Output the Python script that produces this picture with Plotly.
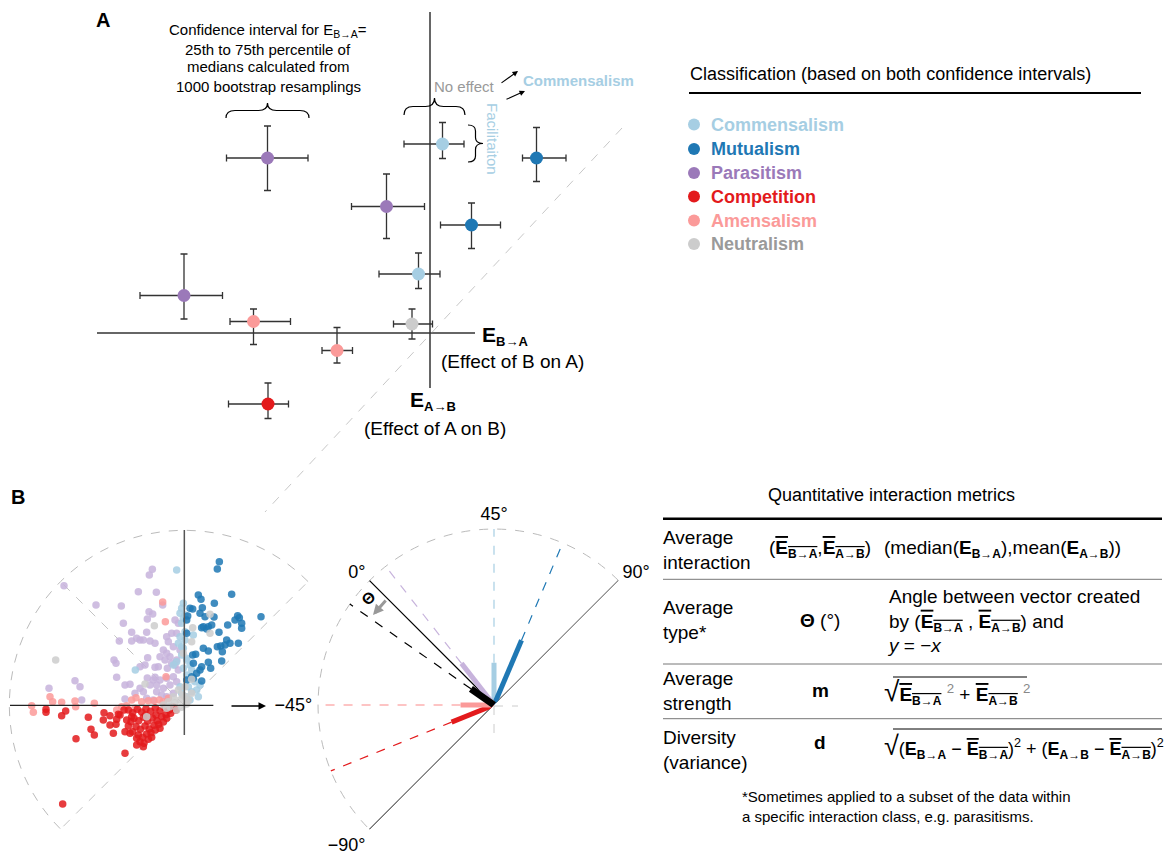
import math
import plotly.graph_objects as go

W, H = 1166, 855
FONT = "Liberation Sans, Arial, Helvetica, sans-serif"

# ---------------- colours ----------------
CLASSES = ["Commensalism", "Mutualism", "Parasitism", "Competition", "Amensalism", "Neutralism"]
DOT_COL = {"Commensalism": "#a6cee3", "Mutualism": "#1f78b4", "Parasitism": "#9b79b9",
           "Competition": "#e31a1c", "Amensalism": "#fb9a99", "Neutralism": "#cccccc"}
TXT_COL = dict(DOT_COL, Neutralism="#9a9a9a")
B_COL = {"Commensalism": "#a6cee3", "Mutualism": "#1f78b4", "Parasitism": "#c7b3dc",
         "Competition": "#e31a1c", "Amensalism": "#fb9a99", "Neutralism": "#cccccc"}

# ---------------- panel A data (E_B->A, E_A->B with IQR of bootstrap medians) ----------------
a_class = ["Parasitism", "Commensalism", "Mutualism", "Parasitism", "Mutualism", "Commensalism",
           "Parasitism", "Amensalism", "Neutralism", "Amensalism", "Competition"]
a_x = [-3.25, 0.25, 2.13, -0.87, 0.83, -0.23, -4.92, -3.53, -0.36, -1.86, -3.24]
a_x_lo = [-4.07, -0.52, 1.85, -1.57, 0.21, -1.02, -5.80, -4.00, -0.73, -2.16, -4.03]
a_x_hi = [-2.44, 0.68, 2.72, -0.11, 1.41, 0.20, -4.15, -2.79, 0.05, -1.55, -2.83]
a_y = [3.50, 3.78, 3.50, 2.53, 2.16, 1.18, 0.75, 0.23, 0.18, -0.35, -1.42]
a_y_lo = [2.85, 3.49, 3.03, 1.89, 1.69, 0.89, 0.28, -0.23, -0.12, -0.60, -1.71]
a_y_hi = [4.14, 4.21, 4.11, 3.18, 2.60, 1.60, 1.58, 0.48, 0.48, 0.11, -1.00]

# ---------------- panel B scatter data ----------------
para_x = [-0.96, -1.05, -1.38, -0.84, -3.61, -2.65, -1.89, -1.06, -0.95, -1.11, -0.65, -1.83, -1.58, -1.13,
          -1.43, -1.58, -1.33, -1.23, -1.03, -0.88, -1.95, -0.53, -0.38, -0.23, -0.28, -0.18, -0.48, -0.63,
          -0.53, -0.43, -0.58, -1.10, -2.11, -2.05, -1.33, -1.18, -0.88, -0.78, -1.11, -0.88, -0.51, -0.38,
          -0.23, -0.18, -2.03, -3.28, -3.13, -4.06, -3.08, -1.78, -1.63, -1.78, -1.23, -1.03, -0.93, -0.83,
          -0.63, -0.43, -0.23, -1.13, -0.73, -0.53, -0.33, -0.83, -0.33, -0.53, -0.93, -1.48, -1.33, -0.68,
          -0.33, -0.13, -0.73, -0.28]
para_y = [4.08, 3.91, 3.41, 3.39, 3.59, 3.01, 2.98, 2.81, 2.74, 2.59, 3.01, 2.46, 2.19, 2.19,
          2.01, 1.93, 1.96, 1.96, 1.93, 1.86, 1.93, 2.06, 2.16, 2.16, 2.56, 2.46, 1.91, 1.66,
          1.56, 1.46, 1.36, 1.43, 1.36, 1.26, 1.16, 1.21, 1.14, 1.16, 0.82, 0.84, 1.11, 1.26,
          1.36, 1.06, 0.84, 0.74, 0.56, 0.51, 0.16, 0.61, 0.63, 0.19, 0.41, 0.61, 0.76, 0.41,
          0.51, 0.61, 0.71, 0.21, 0.76, 0.81, 0.86, 0.61, 0.36, 0.26, 0.16, 0.36, 0.51, 0.31,
          1.76, 1.66, 1.46, 1.21]
comm_x = [-0.23, -0.03, -0.08, -0.13, -0.03, -0.08, 0.02, 0.27, 0.02, -0.18, -0.03, -0.08, 0.07, 0.17,
          0.22, -0.03, -0.23, 0.27, 0.32, 0.07, -0.33, -1.47, -0.08, 0.07, 0.12, 0.22, 0.37, 0.47,
          0.07, -0.08, -0.13, 0.42, 0.17, 0.02, -0.13]
comm_y = [4.06, 3.06, 2.91, 2.76, 2.61, 2.46, 2.71, 2.11, 1.96, 1.86, 1.71, 1.51, 1.41, 1.21,
          1.06, 1.11, 1.31, 0.76, 0.71, 0.91, 1.21, 1.06, 1.76, 1.36, 0.56, 0.41, 0.46, 0.61,
          0.26, 0.36, 0.56, 0.26, 0.16, 2.21, 2.06]
mutu_x = [1.05, 0.99, 0.42, 0.50, 1.42, 0.17, 0.25, 0.54, 0.90, 0.47, 0.62, 0.89, 1.60, 1.65, 1.52,
          1.72, 1.72, 2.30, 1.30, 0.57, 0.72, 0.82, 0.67, 0.52, 1.04, 0.07, 0.07, 0.10, 1.27, 1.37,
          1.62, 1.22, 1.09, 0.99, 0.57, 0.72, 1.14, 0.34, 0.25, 1.12, 0.72, 0.52, 0.27, 0.79, 0.47,
          0.37, 0.22, 0.52, 0.27, 0.07]
mutu_y = [4.31, 4.09, 3.31, 3.18, 3.33, 2.91, 2.89, 2.93, 3.06, 2.76, 2.66, 2.65, 2.69, 2.63, 2.56,
          2.46, 2.31, 2.66, 2.41, 2.36, 2.36, 2.41, 2.29, 2.33, 2.19, 2.16, 2.56, 2.68, 1.96, 1.86,
          1.86, 1.81, 1.78, 1.76, 1.71, 1.63, 1.61, 1.53, 1.51, 1.33, 1.29, 1.16, 1.26, 1.11, 1.06,
          0.96, 0.86, 0.73, 0.81, 0.76]
amen_x = [-0.65, -0.57, -0.55, -1.45, -1.73, -4.03, -3.95, -3.68, -4.58, -4.53, -3.28, -3.26, -2.70,
          -0.91, -0.75, -1.08, -1.28, -1.58, -1.48, -2.03, -1.88, -0.63, -0.48]
amen_y = [3.10, 2.51, 0.86, 0.23, -0.01, 0.26, 0.11, 0.09, -0.01, -0.21, 0.13, -0.04, 0.06,
          0.14, 0.16, 0.14, 0.11, 0.16, -0.09, -0.14, -0.04, 0.11, 0.21]
comp_x = [-4.15, -4.15, -3.68, -3.56, -3.25, -2.88, -2.80, -2.70, -2.41, -2.43, -2.23, -2.23, -2.05, -2.13,
          -1.93, -1.78, -1.78, -1.58, -1.63, -1.43, -1.23, -3.65, -2.03, -1.98,
          -1.68, -1.55, -1.41, -1.28, -1.15, -1.01, -0.87, -0.73, -0.59, -0.45, -0.33,
          -1.51, -1.37, -1.23, -1.10, -0.96, -0.82, -0.68, -0.55, -0.41,
          -1.45, -1.32, -1.18, -1.05, -0.91, -0.77, -0.63, -1.38, -1.25, -1.13, -1.00, -0.87,
          -1.33, -1.21, -1.08, -1.55, -1.68, -1.60, -1.16, -0.85, -0.98, -1.43, -0.53, -0.73,
          -0.25, -1.81, -1.73]
comp_y = [-0.12, -0.21, -0.31, -0.17, -1.00, -0.36, -0.72, -0.89, -0.22, -0.44, -0.31, -0.59, -0.57, -0.84,
          -0.29, -0.79, -1.44, -0.34, -0.84, -0.99, -1.24, -2.96, -0.42, -0.27,
          -0.14, -0.22, -0.12, -0.20, -0.10, -0.18, -0.08, -0.16, -0.07, -0.14, -0.06,
          -0.39, -0.46, -0.36, -0.48, -0.38, -0.46, -0.34, -0.28, -0.24,
          -0.64, -0.72, -0.62, -0.71, -0.60, -0.57, -0.50, -0.89, -0.96, -0.86, -0.82, -0.74,
          -1.09, -1.14, -1.02, -0.79, -0.62, -0.49, -0.29, -0.29, -0.96, -1.19, -0.39, -0.69,
          -0.14, -0.14, -0.44]
neut_x = [-3.86, -0.90, 0.25, 0.77, 0.77, 0.22, -1.18, 0.22, 0.02, -0.13, -0.28, -0.43, -0.23, 0.07,
          -0.05, 0.22, -1.13, -0.53, -0.08, 0.12, -0.33, -0.18, 0.02, -0.48, -0.63, -0.03]
neut_y = [1.36, 2.39, 2.33, 2.73, 2.16, 1.91, 0.64, 0.78, 0.26, 0.16, 0.08, -0.04, -0.14, 0.04,
          0.31, 0.36, -0.34, -0.09, -0.06, 0.16, 0.26, 0.46, 0.56, 0.11, 0.01, 1.56]
B_DATA = {"Parasitism": (para_x, para_y), "Commensalism": (comm_x, comm_y), "Mutualism": (mutu_x, mutu_y),
          "Amensalism": (amen_x, amen_y), "Competition": (comp_x, comp_y), "Neutralism": (neut_x, neut_y)}
B_RADIUS = 5.25

# ---------------- panel B polar summary data ----------------
pol_class = ["Commensalism", "Mutualism", "Parasitism", "Competition", "Amensalism"]
pol_theta = [45, 68, 7, -67, -45]
pol_m = [0.24, 0.40, 0.30, 0.26, 0.19]
overall_theta = -10
overall_m = 0.16
ref_theta = [0, 90, -90]
polar_ticks = [-90, -45, 0, 45, 90]
polar_ticktext = ["\u221290\u00b0", "\u221245\u00b0", "0\u00b0", "45\u00b0", "90\u00b0"]


# ---------------- helpers ----------------
def PX(x):
    return x / W


def PY(y):
    return 1 - y / H


def P(x, y):
    return f"{x / W:.5f},{1 - y / H:.5f}"


def ann(x, y, text, size=15, color="black", xanchor="center", yanchor="middle", **kw):
    return dict(x=PX(x), y=PY(y), xref="paper", yref="paper", text=text, showarrow=False,
                font=dict(family=FONT, size=size, color=color), xanchor=xanchor, yanchor=yanchor, **kw)


def arrow(tx, ty, hx, hy, color="black", width=1.2, head=2, size=1.0):
    return dict(x=PX(hx), y=PY(hy), xref="paper", yref="paper", ax=tx - hx, ay=ty - hy,
                axref="pixel", ayref="pixel", text="", showarrow=True, arrowhead=head,
                arrowsize=size, arrowwidth=width, arrowcolor=color, standoff=0, startstandoff=0)


def pline(x0, y0, x1, y1, color="black", width=1, dash="solid"):
    return dict(type="line", xref="paper", yref="paper", x0=PX(x0), y0=PY(y0), x1=PX(x1), y1=PY(y1),
                line=dict(color=color, width=width, dash=dash))


def brace_h(x1, x2, y0, h, color="black"):
    ym = y0 - h / 2
    xm = (x1 + x2) / 2
    q = 9
    path = (f"M{P(x1, y0)} Q{P(x1, ym)} {P(x1 + q, ym)} L{P(xm - q, ym)} Q{P(xm, ym)} {P(xm, y0 - h)} "
            f"Q{P(xm, ym)} {P(xm + q, ym)} L{P(x2 - q, ym)} Q{P(x2, ym)} {P(x2, y0)}")
    return dict(type="path", xref="paper", yref="paper", path=path, line=dict(color=color, width=1.2))


def brace_v(x0, y1, y2, h, color="black"):
    xm = x0 + h / 2
    ymid = (y1 + y2) / 2
    q = 6
    path = (f"M{P(x0, y1)} Q{P(xm, y1)} {P(xm, y1 + q)} L{P(xm, ymid - q)} Q{P(xm, ymid)} {P(x0 + h, ymid)} "
            f"Q{P(xm, ymid)} {P(xm, ymid + q)} L{P(xm, y2 - q)} Q{P(xm, y2)} {P(x0, y2)}")
    return dict(type="path", xref="paper", yref="paper", path=path, line=dict(color=color, width=1.2))


def sub(s, size=12):
    return "<sub><b><span style='font-size:" + str(size) + "px'>" + s + "</span></b></sub>"


def ebar(s, size=12):
    return "<span style='text-decoration:overline'><b>E</b>" + sub(s, size) + "</span>"


def ebold(s, size=12):
    return "<b>E</b>" + sub(s, size)


fig = go.Figure()

# ---------------- panel A traces ----------------
for cls in CLASSES:
    idx = [i for i, c in enumerate(a_class) if c == cls]
    if not idx:
        continue
    xs = [a_x[i] for i in idx]
    ys = [a_y[i] for i in idx]
    fig.add_trace(go.Scatter(
        x=xs, y=ys, mode="markers", xaxis="x", yaxis="y", name=cls, showlegend=False,
        marker=dict(size=13, color=DOT_COL[cls]),
        error_x=dict(type="data", symmetric=False, array=[a_x_hi[i] - a_x[i] for i in idx],
                     arrayminus=[a_x[i] - a_x_lo[i] for i in idx], color="#333333", thickness=1.3, width=3.5),
        error_y=dict(type="data", symmetric=False, array=[a_y_hi[i] - a_y[i] for i in idx],
                     arrayminus=[a_y[i] - a_y_lo[i] for i in idx], color="#333333", thickness=1.3, width=3.5),
    ))

# ---------------- panel B scatter ----------------
for cls in ["Parasitism", "Commensalism", "Mutualism", "Amensalism", "Competition", "Neutralism"]:
    xs, ys = B_DATA[cls]
    fig.add_trace(go.Scatter(x=xs, y=ys, mode="markers", xaxis="x2", yaxis="y2", showlegend=False,
                             marker=dict(size=7.5, color=B_COL[cls], opacity=0.85)))

# ---------------- panel B polar ----------------
for t in ref_theta:
    fig.add_trace(go.Scatterpolar(r=[0, 1], theta=[t, t], mode="lines", subplot="polar", showlegend=False,
                                  line=dict(color="black", width=1.2)))
pol_dash_col = {"Commensalism": "#a6cee3", "Mutualism": "#1f78b4", "Parasitism": "#c7b3dc",
                "Competition": "#e31a1c", "Amensalism": "#fb8a89"}
for cls, t, m in zip(pol_class, pol_theta, pol_m):
    fig.add_trace(go.Scatterpolar(r=[m, 1], theta=[t, t], mode="lines", subplot="polar", showlegend=False,
                                  line=dict(color=pol_dash_col[cls], width=1.2, dash="dash")))
fig.add_trace(go.Scatterpolar(r=[overall_m, 1], theta=[overall_theta, overall_theta], mode="lines",
                              subplot="polar", showlegend=False, line=dict(color="black", width=1.2, dash="dash")))
for cls, t, m in zip(pol_class, pol_theta, pol_m):
    fig.add_trace(go.Scatterpolar(r=[0, m], theta=[t, t], mode="lines", subplot="polar", showlegend=False,
                                  line=dict(color=B_COL[cls], width=5)))
fig.add_trace(go.Scatterpolar(r=[0, overall_m], theta=[overall_theta, overall_theta], mode="lines",
                              subplot="polar", showlegend=False, line=dict(color="black", width=7)))

# ---------------- shapes ----------------
shapes = []
# panel A axes (data coordinates of panel A)
shapes.append(dict(type="line", xref="x", yref="y", x0=0, x1=0, y0=-1.1, y1=6.42,
                   line=dict(color="#333333", width=1.5), layer="below"))
shapes.append(dict(type="line", xref="x", yref="y", x0=-6.66, x1=0.9, y0=0, y1=0,
                   line=dict(color="#333333", width=1.5), layer="below"))
# diagonal dashed y = x guide
shapes.append(pline(622, 128, 265, 512, color="#c8c8c8", width=1, dash="dash"))
# braces
shapes.append(brace_h(226, 309, 118, 15))
shapes.append(brace_h(404, 465, 115, 17))
shapes.append(brace_v(468, 125, 162, 15))

# legend title rule
shapes.append(pline(689, 93, 1141, 93, width=2.2))
leg_y = [124.5, 149, 173, 196.6, 220.5, 244]
for cls, yy in zip(CLASSES, leg_y):
    shapes.append(dict(type="circle", xref="paper", yref="paper", x0=PX(688), x1=PX(700),
                       y0=PY(yy + 6), y1=PY(yy - 6), fillcolor=DOT_COL[cls], line=dict(width=0)))

# panel B scatter frame (data coordinates of x2/y2)
k = 4 / 3 * math.tan(math.radians(90) / 4)


def arc_seg(r, a):
    a0 = math.radians(a)
    a1 = math.radians(a + 90)
    p0 = (r * math.cos(a0), r * math.sin(a0))
    p3 = (r * math.cos(a1), r * math.sin(a1))
    c1 = (p0[0] - k * r * math.sin(a0), p0[1] + k * r * math.cos(a0))
    c2 = (p3[0] + k * r * math.sin(a1), p3[1] - k * r * math.cos(a1))
    return p0, c1, c2, p3


s1 = arc_seg(B_RADIUS, 45)
s2 = arc_seg(B_RADIUS, 135)
arc = (f"M{s1[0][0]:.4f},{s1[0][1]:.4f} C{s1[1][0]:.4f},{s1[1][1]:.4f} {s1[2][0]:.4f},{s1[2][1]:.4f} "
       f"{s1[3][0]:.4f},{s1[3][1]:.4f} C{s2[1][0]:.4f},{s2[1][1]:.4f} {s2[2][0]:.4f},{s2[2][1]:.4f} "
       f"{s2[3][0]:.4f},{s2[3][1]:.4f}")
shapes.append(dict(type="path", xref="x2", yref="y2", path=arc, layer="below",
                   line=dict(color="#bbbbbb", width=1, dash="dash")))
for ang in (45, 135, 225):
    ca, sa = math.cos(math.radians(ang)), math.sin(math.radians(ang))
    shapes.append(dict(type="line", xref="x2", yref="y2", x0=0, y0=0, x1=B_RADIUS * ca, y1=B_RADIUS * sa,
                       layer="below", line=dict(color="#c4c4c4", width=1, dash="dash")))
shapes.append(dict(type="line", xref="x2", yref="y2", x0=0, x1=0, y0=-0.89, y1=5.26,
                   line=dict(color="#555555", width=1.5)))
shapes.append(dict(type="line", xref="x2", yref="y2", x0=-5.23, x1=0.87, y0=0, y1=0,
                   line=dict(color="#222222", width=1.3)))

# polar small grey continuations
shapes.append(pline(494, 706, 518, 706, color="#cccccc", width=1, dash="dash"))
shapes.append(pline(494, 706, 494, 735, color="#cccccc", width=1, dash="dash"))

# table rules
shapes.append(pline(663, 518.7, 1162, 518.7, width=2.5))
for yy in (579.3, 664, 718.7):
    shapes.append(pline(663, yy, 1162, yy, color="#777777", width=1))
# radical vincula
shapes.append(pline(893, 677, 1027, 677, width=1))
shapes.append(pline(893, 729, 1162, 729, width=1))

# ---------------- annotations ----------------
anns = []
anns.append(ann(103, 20, "<b>A</b>", 20))
anns.append(ann(18, 497, "<b>B</b>", 20))
anns.append(ann(268, 31, "Confidence interval for E<sub>B\u2192A</sub>=", 15))
anns.append(ann(268, 49, "25th to 75th percentile of", 15))
anns.append(ann(268, 67, "medians calculated from", 15))
anns.append(ann(268, 86, "1000 bootstrap resamplings", 15))
anns.append(ann(464, 86, "No effect", 15, color="#999999"))
anns.append(ann(521, 80, "<b>Commensalism</b>", 15, color="#a6cee3", xanchor="left"))
anns.append(ann(493, 139, "Facilitaiton", 15, color="#a6cee3", textangle=90))
anns.append(arrow(500, 84, 518, 71, width=1.1, size=1.0))
anns.append(arrow(505, 100, 525, 91, width=1.1, size=1.0))
anns.append(ann(480, 336, ebold("B\u2192A", 13), 21, xanchor="left"))
anns.append(ann(512, 361, "(Effect of B on A)", 19))
anns.append(ann(408, 401, ebold("A\u2192B", 13), 21, xanchor="left"))
anns.append(ann(435, 428, "(Effect of A on B)", 19))

# legend
anns.append(ann(688, 73.5, "Classification (based on both confidence intervals)", 18, xanchor="left"))
for cls, yy in zip(CLASSES, leg_y):
    anns.append(ann(709, yy, "<b>" + cls + "</b>", 18, color=TXT_COL[cls], xanchor="left"))

# panel B arrows and theta
anns.append(arrow(230, 706, 266, 706, width=1.5, size=1.0))
anns.append(arrow(387, 599, 373, 615, color="#999999", width=3, size=0.7))
anns.append(ann(368, 598, "<b>\u0398</b>", 16, textangle=-45))

# table
anns.append(ann(891, 495, "Quantitative interaction metrics", 18))
anns.append(ann(661, 550, "Average<br>interaction", 19, xanchor="left", align="left"))
anns.append(ann(820, 549, "(" + ebar("B\u2192A") + "," + ebar("A\u2192B") + ")", 19))
anns.append(ann(882, 549, "(median(" + ebold("B\u2192A") + "),mean(" + ebold("A\u2192B") + "))", 19,
                xanchor="left"))
anns.append(ann(661, 620, "Average<br>type*", 19, xanchor="left", align="left"))
anns.append(ann(820, 620, "<b>\u0398</b> (\u00b0)", 19))
anns.append(ann(885, 621, "Angle between vector created<br>by (" + ebar("B\u2192A") + " , " + ebar("A\u2192B")
                + ") and<br><i>y</i> = \u2212<i>x</i>", 19, xanchor="left", align="left"))
anns.append(ann(661, 691, "Average<br>strength", 19, xanchor="left", align="left"))
anns.append(ann(820, 690, "<b>m</b>", 19))
anns.append(ann(882, 692, "<span style='font-size:28px'>\u221a</span>" + ebar("B\u2192A")
                + " <sup><span style='color:#888'>2</span></sup> + " + ebar("A\u2192B")
                + " <sup><span style='color:#888'>2</span></sup>", 19, xanchor="left"))
anns.append(ann(661, 750, "Diversity<br>(variance)", 19, xanchor="left", align="left"))
anns.append(ann(820, 742, "<b>d</b>", 19))
anns.append(ann(882, 746, "<span style='font-size:27px'>\u221a</span>(" + ebold("B\u2192A") + " \u2212 "
                + ebar("B\u2192A") + ")<sup>2</sup> + (" + ebold("A\u2192B") + " \u2212 " + ebar("A\u2192B")
                + ")<sup>2</sup>", 18, xanchor="left"))
anns.append(ann(740, 806, "*Sometimes applied to a subset of the data within<br>"
                "a specific interaction class, e.g. parasitisms.", 15, xanchor="left", align="left"))

# ---------------- layout ----------------
R_OUT = 1.03
r_px = 176 * R_OUT
ox, oy = 494, 705
polar_dom_x = [(ox - r_px) / W, (ox + r_px * math.cos(math.radians(45))) / W]
polar_dom_y = [1 - (oy + r_px * math.cos(math.radians(45))) / H, 1 - (oy - r_px) / H]

hidden = dict(visible=False, showgrid=False, zeroline=False)
fig.update_layout(
    width=W, height=H, margin=dict(l=0, r=0, t=0, b=0),
    paper_bgcolor="white", plot_bgcolor="white", showlegend=False,
    font=dict(family=FONT, color="black"),
    xaxis=dict(domain=[90 / W, 640 / W], range=[-6.8, 4.2], **hidden),
    yaxis=dict(domain=[1 - 490 / H, 1], range=[-3.14, 6.66], **hidden),
    xaxis2=dict(domain=[0, 315 / W], range=[-5.53, -5.53 + 315 / 33.3333], **hidden),
    yaxis2=dict(domain=[1 - 850 / H, 1 - 500 / H], range=[-4.34, 6.16], **hidden),
    polar=dict(
        domain=dict(x=polar_dom_x, y=polar_dom_y), sector=[45, 225], bgcolor="rgba(0,0,0,0)",
        angularaxis=dict(direction="clockwise", rotation=135, tickvals=polar_ticks, ticktext=polar_ticktext,
                         showgrid=False, showline=False, ticks="",
                         tickfont=dict(family=FONT, size=18, color="black")),
        radialaxis=dict(range=[0, R_OUT], tickvals=[1], showticklabels=False, showline=False, ticks="",
                        showgrid=True, gridcolor="#bbbbbb", griddash="dash", gridwidth=1),
    ),
    shapes=shapes, annotations=anns,
)

fig.write_html("out.html", config={"displayModeBar": False},
               post_script="document.body.style.margin='0';document.body.style.overflow='hidden';")
